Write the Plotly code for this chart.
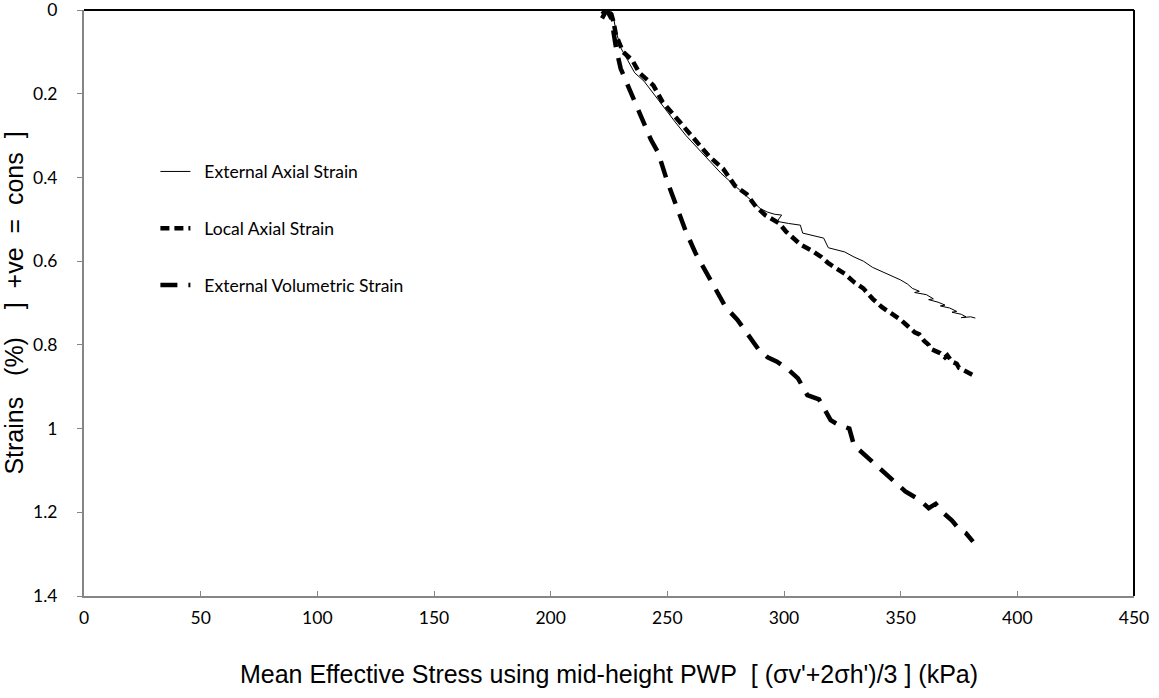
import plotly.graph_objects as go

# Mean effective stress (kPa) and strains (%) for each measurement
ext_axial_p = [222, 224, 226, 227, 228, 230, 233, 236, 240, 244, 248, 253, 258, 263, 268,
               273, 278, 283, 287, 290, 293, 296, 299, 297, 302, 307, 308, 312, 317, 319,
               322, 326, 330, 334, 338, 342, 346, 350, 353,
               355, 358, 356, 361, 364, 362, 366, 369, 367, 371, 374, 372, 376, 378, 376,
               380, 382]
ext_axial_strain = [0.01, 0.0, 0.005, 0.02, 0.05, 0.09, 0.12, 0.15, 0.17, 0.20, 0.23, 0.265,
                    0.30, 0.33, 0.36, 0.39, 0.415, 0.44, 0.46, 0.475, 0.483, 0.488, 0.49,
                    0.505, 0.51, 0.514, 0.533, 0.538, 0.545, 0.568, 0.573, 0.578, 0.59, 0.60,
                    0.615, 0.625, 0.635, 0.645, 0.655,
                    0.665, 0.672, 0.675, 0.68, 0.69, 0.692, 0.698, 0.705, 0.707, 0.712, 0.72,
                    0.722, 0.727, 0.733, 0.735, 0.733, 0.736]

loc_axial_p = [222, 224, 226, 227, 228, 231, 235, 238, 242, 244, 248, 254, 262, 268, 274,
               279, 284, 288, 292, 295, 298, 301, 304, 307, 312, 316, 319, 322, 326, 330,
               334, 338, 342, 346, 350, 353, 356, 358, 360, 362, 363, 365, 367, 369, 370,
               372, 374, 375, 377, 378, 380, 381, 382]
loc_axial_strain = [0.02, 0.0, 0.01, 0.03, 0.06, 0.10, 0.12, 0.15, 0.17, 0.18, 0.22, 0.26,
                    0.31, 0.35, 0.38, 0.42, 0.44, 0.47, 0.49, 0.50, 0.51, 0.53, 0.545, 0.56,
                    0.575, 0.59, 0.605, 0.615, 0.63, 0.65, 0.665, 0.69, 0.71, 0.725, 0.74,
                    0.755, 0.77, 0.775, 0.79, 0.80, 0.81, 0.815, 0.82, 0.83, 0.825, 0.84,
                    0.845, 0.855, 0.86, 0.865, 0.87, 0.87, 0.875]

vol_p = [222, 224, 226, 228, 230, 233, 238, 243, 246, 250, 254, 258, 262, 266, 270, 275,
         280, 285, 289, 293, 297, 302, 306, 310, 315, 318, 320, 323, 328, 330, 334, 340,
         346, 352, 358, 362, 365, 368, 372, 375, 378, 381]
vol_strain = [0.01, 0.0, 0.02, 0.09, 0.14, 0.18, 0.25, 0.31, 0.34, 0.41, 0.47, 0.53, 0.58,
              0.62, 0.66, 0.71, 0.74, 0.78, 0.81, 0.83, 0.84, 0.86, 0.88, 0.92, 0.93, 0.96,
              0.98, 0.99, 1.00, 1.04, 1.06, 1.09, 1.12, 1.15, 1.17, 1.19, 1.18, 1.20, 1.22,
              1.24, 1.25, 1.27]

x_ticks = [0, 50, 100, 150, 200, 250, 300, 350, 400, 450]
y_ticks = [0, 0.2, 0.4, 0.6, 0.8, 1, 1.2, 1.4]

NB = "\u00a0"
x_title = f"Mean Effective Stress using mid-height PWP{NB}{NB}[ (σv'+2σh')/3 ] (kPa)"
y_title = (f"Strains{NB * 3}(%){NB * 4}]{NB * 2}+ve{NB * 2}={NB * 2}cons{NB * 2}]")
legend_pad = NB * 2

fig = go.Figure()
fig.add_trace(go.Scatter(x=ext_axial_p, y=ext_axial_strain, mode="lines",
                         name=legend_pad + "External Axial Strain", legendgroup="a",
                         line=dict(color="black", width=1)))
fig.add_trace(go.Scatter(x=loc_axial_p, y=loc_axial_strain, mode="lines",
                         name=legend_pad + "Local Axial Strain", legendgroup="b",
                         line=dict(color="black", width=4.5, dash="9px,5px")))
fig.add_trace(go.Scatter(x=vol_p, y=vol_strain, mode="lines",
                         name=legend_pad + "External Volumetric Strain", legendgroup="c",
                         line=dict(color="black", width=4.5, dash="17px,11px")))

axis_grey = "#868686"
tick_font = dict(family="Lato, Open Sans, sans-serif", size=17.5, color="black")
title_font = dict(family="Liberation Sans, Arial, sans-serif", size=25, color="black")
fig.update_layout(
    width=1159, height=698,
    margin=dict(l=84, r=25, t=10, b=102),
    paper_bgcolor="white", plot_bgcolor="white",
    font=dict(family="Lato, Open Sans, sans-serif", size=16, color="black"),
    showlegend=True,
    legend=dict(x=0.068, y=0.755, xanchor="left", yanchor="top",
                bgcolor="rgba(0,0,0,0)", tracegroupgap=31,
                font=dict(family="Lato, Open Sans, sans-serif", size=17.5)),
    xaxis=dict(range=[0, 450], tickvals=x_ticks, ticktext=[str(v) for v in x_ticks],
               showgrid=False, zeroline=False, showline=True, linecolor=axis_grey,
               linewidth=2, ticks="inside", ticklen=5, tickcolor=axis_grey,
               tickfont=tick_font, ticklabelstandoff=5, ticklabeloverflow="allow",
               automargin=False,
               title=dict(text=x_title, font=title_font, standoff=38)),
    yaxis=dict(range=[1.4, 0], tickvals=y_ticks, ticktext=[f"{v:g}" for v in y_ticks],
               showgrid=False, zeroline=False, showline=True, linecolor=axis_grey,
               linewidth=2, ticks="outside", ticklen=5, tickcolor=axis_grey,
               tickfont=tick_font, ticklabelstandoff=16, ticklabeloverflow="allow",
               automargin=False,
               title=dict(text=y_title, font=title_font, standoff=8)),
)

# Black frame on the top and right edges of the plotting area
fig.add_shape(type="line", xref="paper", yref="paper", x0=0, x1=1, y0=1, y1=1,
              line=dict(color="black", width=2))
fig.add_shape(type="line", xref="paper", yref="paper", x0=1, x1=1, y0=0, y1=1,
              line=dict(color="black", width=2))

fig.write_html("out.html")
